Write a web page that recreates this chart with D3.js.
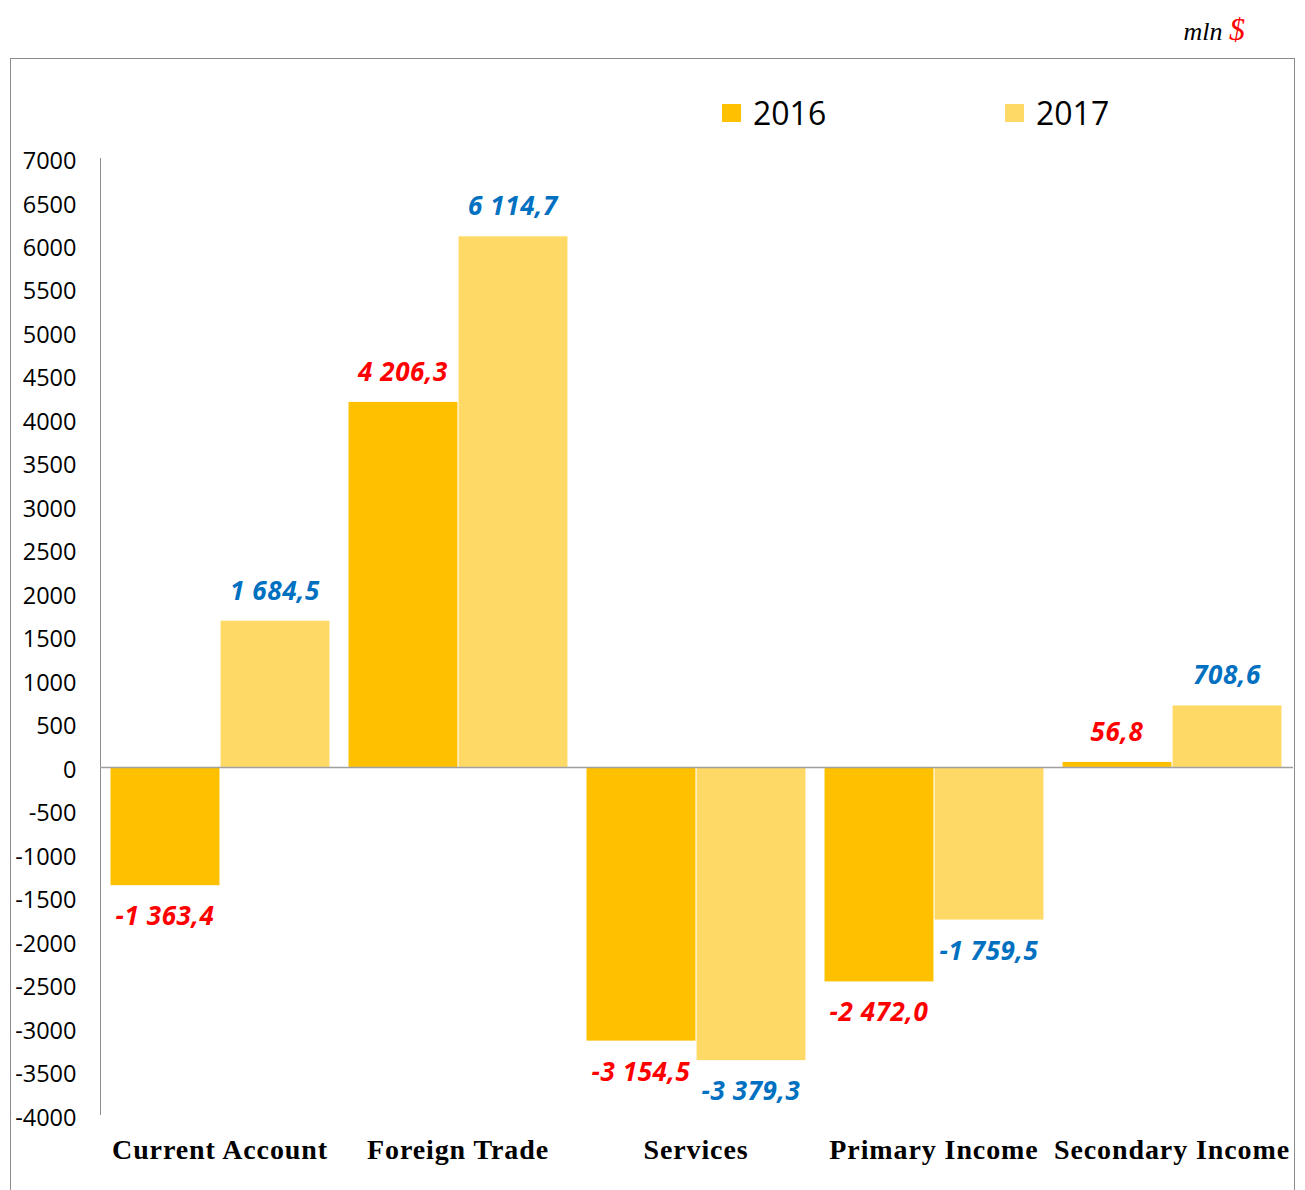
<!DOCTYPE html>
<html><head><meta charset="utf-8">
<script src="https://cdn.jsdelivr.net/npm/d3@7"></script>
<style>body{margin:0;background:#fff;}svg{display:block;}</style>
</head><body>
<svg id="chart" width="1305" height="1190"></svg>
<script>
const categories = ["Current Account", "Foreign Trade", "Services", "Primary Income", "Secondary Income"];
const seriesNames = ["2016", "2017"];
const values2016 = [-1363.4, 4206.3, -3154.5, -2472.0, 56.8];
const values2017 = [1684.5, 6114.7, -3379.3, -1759.5, 708.6];
const labels2016 = ["-1 363,4", "4 206,3", "-3 154,5", "-2 472,0", "56,8"];
const labels2017 = ["1 684,5", "6 114,7", "-3 379,3", "-1 759,5", "708,6"];
const yTicks = [7000, 6500, 6000, 5500, 5000, 4500, 4000, 3500, 3000, 2500, 2000, 1500, 1000, 500, 0, -500, -1000, -1500, -2000, -2500, -3000, -3500, -4000];

const colors = {"2016": "#FFC000", "2017": "#FFD966"};
const labelColors = {"2016": "#FF0000", "2017": "#0070C0"};

const svg = d3.select("#chart");

// frame
svg.append("rect").attr("x", 10.5).attr("y", 58.5).attr("width", 1284).attr("height", 1140)
  .attr("fill", "none").attr("stroke", "#8c8c8c").attr("stroke-width", 1);

// unit
const unit = svg.append("text").attr("x", 1245).attr("y", 40).attr("text-anchor", "end")
  .attr("font-family", "Liberation Serif").attr("font-style", "italic").attr("font-size", 26);
unit.append("tspan").attr("fill", "#000").text("mln ");
unit.append("tspan").attr("fill", "#FF0000").attr("font-size", 32).text("$");

const y = d3.scaleLinear().domain([-4000, 7000]).range([1114, 159.5]);
const x0 = d3.scaleBand().domain(categories).range([101, 1291]).paddingInner(0.08).paddingOuter(0.04);
const x1 = d3.scaleBand().domain(seriesNames).range([0, x0.bandwidth()]).paddingInner(0.01);

// y axis
const yAxis = d3.axisLeft(y).tickValues(yTicks).tickSize(0).tickPadding(24).tickFormat(d => String(d));
const ga = svg.append("g").attr("transform", "translate(100.5,0)").call(yAxis);
ga.select(".domain").attr("stroke", "#8c8c8c").attr("d", `M0,${y(7000)-1.5}V${y(-4000)+1}`);
ga.selectAll("text").attr("font-family", "Open Sans").attr("font-size", 23.5).attr("fill", "#000")
  .attr("transform", d => `translate(0,${1.5 + 2 * (7000 - d) / 11000})`);

const data = categories.map((c, i) => ({cat: c, vals: [
  {s: "2016", v: values2016[i], l: labels2016[i]},
  {s: "2017", v: values2017[i], l: labels2017[i]}]}));

const groups = svg.selectAll("g.grp").data(data).join("g").attr("class", "grp")
  .attr("transform", d => `translate(${x0(d.cat)},0)`);

groups.selectAll("rect").data(d => d.vals).join("rect")
  .attr("x", d => x1(d.s))
  .attr("width", x1.bandwidth())
  .attr("y", d => y(Math.max(0, d.v)))
  .attr("height", d => Math.abs(y(d.v) - y(0)))
  .attr("fill", d => colors[d.s]);

// zero line
svg.append("line").attr("x1", 100).attr("x2", 1293).attr("y1", y(0) + 0.5).attr("y2", y(0) + 0.5)
  .attr("stroke", "#a0a0a0").attr("stroke-width", 1.5);

groups.selectAll("text.lbl").data(d => d.vals).join("text").attr("class", "lbl")
  .attr("x", d => x1(d.s) + x1.bandwidth() / 2)
  .attr("y", d => d.v >= 0 ? y(d.v) - 21 : y(d.v) + 40)
  .attr("text-anchor", "middle")
  .attr("font-family", "Open Sans").attr("font-weight", "bold").attr("font-style", "italic")
  .attr("font-size", 26).attr("letter-spacing", 0.6).attr("fill", d => labelColors[d.s])
  .text(d => d.l);

// category labels
svg.selectAll("text.cat").data(categories).join("text").attr("class", "cat")
  .attr("x", d => x0(d) + x0.bandwidth() / 2)
  .attr("y", 1159)
  .attr("text-anchor", "middle")
  .attr("font-family", "Liberation Serif").attr("font-weight", "bold").attr("font-size", 28)
  .attr("letter-spacing", 0.9)
  .attr("fill", "#000")
  .text(d => d);

// legend
const legendX = [722, 1005];
const lg = svg.selectAll("g.leg").data(seriesNames).join("g").attr("class", "leg")
  .attr("transform", (d, i) => `translate(${legendX[i]},0)`);
lg.append("rect").attr("x", 0).attr("y", 104).attr("width", 19).attr("height", 18).attr("fill", d => colors[d]);
lg.append("text").attr("x", 31).attr("y", 125).attr("font-family", "Open Sans").attr("font-size", 32)
  .attr("fill", "#000").text(d => d);
</script>
</body></html>
